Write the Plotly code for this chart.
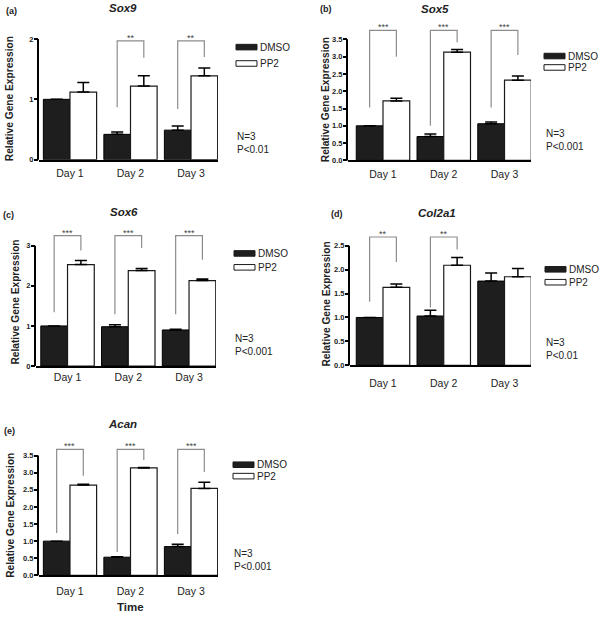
import plotly.graph_objects as go

# ---------------- data ----------------
days = ["Day 1", "Day 2", "Day 3"]

sox9_dmso = [1.00, 0.42, 0.49]
sox9_dmso_err = [0.0, 0.04, 0.07]
sox9_pp2 = [1.12, 1.22, 1.39]
sox9_pp2_err = [0.16, 0.17, 0.13]

sox5_dmso = [1.00, 0.69, 1.06]
sox5_dmso_err = [0.0, 0.07, 0.05]
sox5_pp2 = [1.72, 3.13, 2.32]
sox5_pp2_err = [0.08, 0.08, 0.12]

sox6_dmso = [1.00, 0.98, 0.90]
sox6_dmso_err = [0.0, 0.05, 0.02]
sox6_pp2 = [2.53, 2.38, 2.13]
sox6_pp2_err = [0.10, 0.05, 0.04]

col2a1_dmso = [1.00, 1.03, 1.76]
col2a1_dmso_err = [0.0, 0.12, 0.17]
col2a1_pp2 = [1.63, 2.09, 1.85]
col2a1_pp2_err = [0.07, 0.16, 0.17]

acan_dmso = [1.00, 0.53, 0.84]
acan_dmso_err = [0.0, 0.01, 0.07]
acan_pp2 = [2.64, 3.14, 2.54]
acan_pp2_err = [0.02, 0.01, 0.18]

# significance brackets: (day index, left leg bottom, top, right leg bottom, stars)
sox9_sig = [(1, 0.87, 1.97, 1.69, "**"), (2, 0.84, 1.97, 1.70, "**")]
sox5_sig = [(0, 1.53, 3.76, 3.00, "***"), (1, 1.00, 3.76, 3.42, "***"), (2, 1.53, 3.76, 3.05, "***")]
sox6_sig = [(0, 1.34, 3.25, 2.88, "***"), (1, 1.29, 3.25, 2.94, "***"), (2, 1.29, 3.25, 2.65, "***")]
col2a1_sig = [(0, 1.33, 2.68, 2.16, "**"), (1, 1.21, 2.68, 2.42, "**")]
acan_sig = [(0, 1.24, 3.68, 2.91, "***"), (1, 0.68, 3.68, 3.37, "***"), (2, 1.21, 3.68, 3.02, "***")]

ticks_int2 = [0, 1, 2]
ticks_int3 = [0, 1, 2, 3]
ticks_half25 = [0, 0.5, 1.0, 1.5, 2.0, 2.5]
ticks_half35 = [0, 0.5, 1.0, 1.5, 2.0, 2.5, 3.0, 3.5]

panels = [
    dict(label="(a)", gene="Sox9", dmso=sox9_dmso, dmso_err=sox9_dmso_err, pp2=sox9_pp2, pp2_err=sox9_pp2_err,
         ticks=ticks_int2, ticktext=["0", "1", "2"], sig=sox9_sig, n="N=3", p="P<0.01"),
    dict(label="(b)", gene="Sox5", dmso=sox5_dmso, dmso_err=sox5_dmso_err, pp2=sox5_pp2, pp2_err=sox5_pp2_err,
         ticks=ticks_half35, ticktext=[f"{v:.1f}" for v in ticks_half35], sig=sox5_sig, n="N=3", p="P<0.001"),
    dict(label="(c)", gene="Sox6", dmso=sox6_dmso, dmso_err=sox6_dmso_err, pp2=sox6_pp2, pp2_err=sox6_pp2_err,
         ticks=ticks_int3, ticktext=["0", "1", "2", "3"], sig=sox6_sig, n="N=3", p="P<0.001"),
    dict(label="(d)", gene="Col2a1", dmso=col2a1_dmso, dmso_err=col2a1_dmso_err, pp2=col2a1_pp2, pp2_err=col2a1_pp2_err,
         ticks=ticks_half25, ticktext=[f"{v:.1f}" for v in ticks_half25], sig=col2a1_sig, n="N=3", p="P<0.01"),
    dict(label="(e)", gene="Acan", dmso=acan_dmso, dmso_err=acan_dmso_err, pp2=acan_pp2, pp2_err=acan_pp2_err,
         ticks=ticks_half35, ticktext=[f"{v:.1f}" for v in ticks_half35], sig=acan_sig, n="N=3", p="P<0.001"),
]

# ---------------- layout geometry (pixels) ----------------
W, H = 600, 621
FONT = "Liberation Sans, Arial, sans-serif"

def px(x):
    return x / W

def py(y):
    return 1 - y / H

geoms = [
    dict(x0=39, x1=218, xr=[-0.512, 2.446], y0=161.0, ppu=60.85, vtop=2.2,
         title=(123, 8), lab=(11, 11), ytitle=(9, 100), leg=(236, 47.5, 64), note=(236, 144), stand=3),
    dict(x0=348, x1=531, xr=[-0.576, 2.436], y0=161.7, ppu=34.86, vtop=4.15,
         title=(435, 9), lab=(326, 9), ytitle=(325, 101), leg=(544, 56.5, 68), note=(545, 141.5), stand=3),
    dict(x0=36, x1=216, xr=[-0.519, 2.444], y0=369.0, ppu=40.43, vtop=3.55,
         title=(124, 214), lab=(8, 217), ytitle=(16, 305), leg=(234, 255.5, 269.5), note=(234, 348), stand=0),
    dict(x0=350, x1=531, xr=[-0.543, 2.436], y0=368.3, ppu=48.27, vtop=2.95,
         title=(437, 215), lab=(337, 216), ytitle=(327, 307), leg=(545, 271.5, 284.5), note=(545, 352), stand=7),
    dict(x0=39, x1=218, xr=[-0.512, 2.446], y0=580.0, ppu=34.48, vtop=4.05,
         title=(122, 427), lab=(9, 434), ytitle=(11, 520), leg=(233, 468.5, 480), note=(233, 564.5), stand=5),
]

HALF = 0.22  # half spacing between grouped bar centres (axis units)

fig = go.Figure()
shapes = []
annotations = []
layout_axes = {}

for k, (p, g) in enumerate(zip(panels, geoms), start=1):
    sfx = "" if k == 1 else str(k)
    xa, ya = "x" + sfx, "y" + sfx
    xpos = list(range(len(days)))

    fig.add_trace(go.Bar(
        x=xpos, y=p["dmso"], name="DMSO", offsetgroup="dmso", xaxis=xa, yaxis=ya, showlegend=False,
        marker=dict(color="#1e1e1e", line=dict(color="#000000", width=1)),
        error_y=dict(type="data", array=p["dmso_err"], arrayminus=[0] * 3, symmetric=False,
                     color="#000000", thickness=1.5, width=6)))
    fig.add_trace(go.Bar(
        x=xpos, y=p["pp2"], name="PP2", offsetgroup="pp2", xaxis=xa, yaxis=ya, showlegend=False,
        marker=dict(color="#ffffff", line=dict(color="#1a1a1a", width=1.2)),
        error_y=dict(type="data", array=p["pp2_err"], arrayminus=[0] * 3, symmetric=False,
                     color="#000000", thickness=1.5, width=6)))

    for (i, lo, top, hi, stars) in p["sig"]:
        fig.add_trace(go.Scatter(
            x=[i - HALF, i - HALF, i + HALF, i + HALF], y=[lo, top, top, hi], mode="lines",
            line=dict(color="#8c8c8c", width=1.2), xaxis=xa, yaxis=ya, showlegend=False, hoverinfo="skip"))
        annotations.append(dict(x=i, y=top, xref=xa, yref=ya, text=stars, showarrow=False,
                                yanchor="bottom", yshift=-4,
                                font=dict(family=FONT, size=9, color="#444444")))

    top_px = g["y0"] - g["ppu"] * g["vtop"]
    layout_axes["xaxis" + sfx] = dict(
        domain=[px(g["x0"]), px(g["x1"])], range=g["xr"], anchor=ya,
        tickmode="array", tickvals=xpos, ticktext=days, ticks="",
        showline=True, linecolor="#000000", linewidth=2, showgrid=False, zeroline=False,
        ticklabelstandoff=g["stand"],
        tickfont=dict(family=FONT, size=10.5, color="#222222"), fixedrange=True)
    layout_axes["yaxis" + sfx] = dict(
        domain=[py(g["y0"]), py(top_px)], range=[0, g["vtop"]], anchor=xa,
        tickmode="array", tickvals=p["ticks"], ticktext=p["ticktext"],
        ticks="outside", ticklen=4, tickwidth=1.5, tickcolor="#000000",
        showline=False, showgrid=False, zeroline=False, ticklabelstandoff=-1,
        tickfont=dict(family=FONT, size=7.5, color="#222222", weight="bold"), fixedrange=True)

    # y axis line only up to the last tick
    shapes.append(dict(type="line", xref="paper", yref=ya,
                       x0=px(g["x0"] - 1), x1=px(g["x0"] - 1),
                       y0=-2 / g["ppu"], y1=p["ticks"][-1],
                       line=dict(color="#000000", width=2)))

    # titles / labels
    annotations.append(dict(x=px(g["title"][0]), y=py(g["title"][1]), xref="paper", yref="paper",
                            text=f"<b><i>{p['gene']}</i></b>", showarrow=False,
                            xanchor="center", yanchor="middle",
                            font=dict(family=FONT, size=11.5, color="#222222")))
    annotations.append(dict(x=px(g["lab"][0]), y=py(g["lab"][1]), xref="paper", yref="paper",
                            text=f"<b>{p['label']}</b>", showarrow=False,
                            xanchor="center", yanchor="middle",
                            font=dict(family=FONT, size=9, color="#222222")))
    annotations.append(dict(x=px(g["ytitle"][0]), y=py(g["ytitle"][1]), xref="paper", yref="paper",
                            text="<b>Relative Gene Expression</b>", showarrow=False, textangle=-90,
                            xanchor="center", yanchor="middle",
                            font=dict(family=FONT, size=10.2, color="#222222")))

    # legend (drawn)
    lx, ly1, ly2 = g["leg"]
    for (yy, name, fill) in [(ly1, "DMSO", "#1e1e1e"), (ly2, "PP2", "#ffffff")]:
        shapes.append(dict(type="rect", xref="paper", yref="paper",
                           x0=px(lx), x1=px(lx + 21), y0=py(yy + 2.8), y1=py(yy - 2.8),
                           fillcolor=fill, line=dict(color="#1a1a1a", width=1)))
        annotations.append(dict(x=px(lx + 22), y=py(yy), xref="paper", yref="paper",
                                text=name, showarrow=False, xanchor="left", yanchor="middle",
                                font=dict(family=FONT, size=10, color="#222222")))
    nx, ny = g["note"]
    annotations.append(dict(x=px(nx - 1), y=py(ny), xref="paper", yref="paper",
                            text=f"{p['n']}<br>{p['p']}", showarrow=False, align="left",
                            xanchor="left", yanchor="middle",
                            font=dict(family=FONT, size=10, color="#222222")))

annotations.append(dict(x=px(130), y=py(612), xref="paper", yref="paper", text="<b>Time</b>",
                        showarrow=False, xanchor="center", yanchor="middle",
                        font=dict(family=FONT, size=11.5, color="#222222")))

fig.update_layout(
    width=W, height=H, autosize=False,
    margin=dict(l=0, r=0, t=0, b=0),
    paper_bgcolor="#ffffff", plot_bgcolor="#ffffff",
    barmode="group", bargap=0.12, bargroupgap=0.0,
    font=dict(family=FONT, color="#222222"),
    shapes=shapes, annotations=annotations, showlegend=False,
    **layout_axes)

fig.write_html("out.html", config={"displayModeBar": False},
               post_script="document.body.style.margin='0px';document.body.style.overflow='hidden';")
